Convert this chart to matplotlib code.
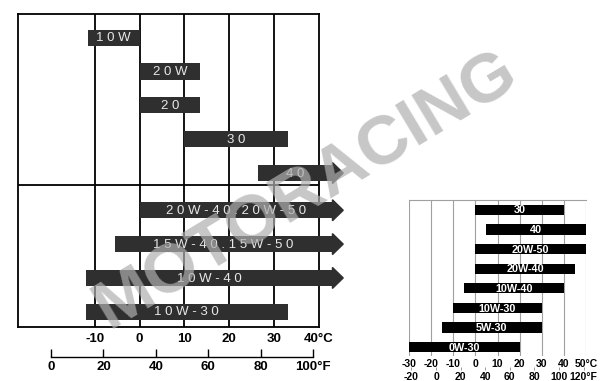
import matplotlib.pyplot as plt
from matplotlib.patches import Polygon

plt.rcParams['font.family'] = ['Liberation Sans', 'DejaVu Sans']

# left chart: recommended viscosity by ambient temperature (deg C)
grades = ['10W', '20W', '20', '30', '40',
          '20W-40.20W-50', '15W-40.15W-50', '10W-40', '10W-30']
lo = [-11.5, 0, 0, 10, 26.5, 0, -5.5, -12, -12]
hi = [0, 13.5, 13.5, 33, 43, 43, 43, 43, 33]
open_end = [False, False, False, False, True, True, True, True, False]
c_ticks = [-10, 0, 10, 20, 30, 40]
c_labels = ['-10', '0', '10', '20', '30', '40°C']
f_ticks = [0, 20, 40, 60, 80, 100]
f_labels = ['0', '20', '40', '60', '80', '100°F']

# right chart
grades2 = ['30', '40', '20W-50', '20W-40', '10W-40', '10W-30', '5W-30', '0W-30']
lo2 = [0, 5, 0, 0, -5, -10, -15, -30]
hi2 = [40, 50, 50, 45, 40, 30, 30, 20]
c_ticks2 = [-30, -20, -10, 0, 10, 20, 30, 40, 50]
c_labels2 = ['-30', '-20', '-10', '0', '10', '20', '30', '40', '50°C']
f_ticks2 = [-20, 0, 20, 40, 60, 80, 100, 120]
f_labels2 = ['-20', '0', '20', '40', '60', '80', '100', '120°F']

W, H = 600, 381
fig = plt.figure(figsize=(6, 3.81), dpi=100)


def px_axes(x0, y0, x1, y1):
    # axes from pixel box (top-left origin)
    return fig.add_axes([x0 / W, 1 - y1 / H, (x1 - x0) / W, (y1 - y0) / H])


# ---------- left chart ----------
ax = px_axes(18, 14, 319, 327)
ax.set_xlim(-27.1, 40)
ax.set_ylim(8.55, -0.7)
bar_col = '#2f2f2f'
ypos = [i + (0.1 if i >= 5 else 0) for i in range(len(grades))]
bh = 0.48
ax.barh(ypos, [h - l for l, h in zip(lo, hi)], left=lo, height=bh,
        color=bar_col, zorder=3, clip_on=False)
for y, l, h, g, arr in zip(ypos, lo, hi, grades, open_end):
    if arr:
        head = Polygon([(h, y - 0.31), (h + 2.4, y), (h, y + 0.31)],
                       closed=True, color=bar_col, zorder=3, clip_on=False)
        ax.add_patch(head)
    ax.text((l + h) / 2, y + 0.02, ' '.join(g), color='#e8e8e8',
            fontsize=9.5, ha='center', va='center', zorder=4)

for x in c_ticks[:-1]:
    ax.axvline(x, color='black', lw=1.3, zorder=1)
ax.axhline(4.35, color='black', lw=1.3, zorder=1)
for s in ax.spines.values():
    s.set_linewidth(1.3)
ax.set_yticks([])
ax.set_xticks(c_ticks, c_labels, fontweight='bold', fontsize=9.5)
ax.tick_params(axis='x', length=0, pad=4)

# fahrenheit scale under left chart
axf = px_axes(51, 340, 313, 357)
axf.set_xlim(0, 100)
axf.set_facecolor('none')
for k in ['top', 'left', 'right']:
    axf.spines[k].set_visible(False)
axf.spines['bottom'].set_linewidth(1.0)
axf.set_yticks([])
axf.set_xticks(f_ticks, f_labels, fontweight='bold', fontsize=9.5)
axf.tick_params(axis='x', direction='in', length=6, width=1.0, pad=3)

# ---------- right chart ----------
ax2 = px_axes(409, 200, 586, 356)
ax2.set_xlim(-30, 50)
ax2.set_ylim(7.45, -0.5)
ax2.barh(range(len(grades2)), [h - l for l, h in zip(lo2, hi2)], left=lo2,
         height=0.52, color='black', zorder=3)
for i, (l, h, g) in enumerate(zip(lo2, hi2, grades2)):
    ax2.text((l + h) / 2, i + 0.03, g, color='white', fontsize=7.8,
             fontweight='bold', ha='center', va='center', zorder=4)
for x in c_ticks2:
    ax2.axvline(x, color='#a0a0a0', lw=0.8, zorder=1)
for k in ['bottom', 'left', 'right']:
    ax2.spines[k].set_visible(False)
ax2.spines['top'].set_color('#a0a0a0')
ax2.spines['top'].set_linewidth(0.8)
ax2.set_yticks([])
ax2.set_xticks(c_ticks2, c_labels2, fontweight='bold', fontsize=7.5)
ax2.tick_params(axis='x', length=0, pad=2)

sec = ax2.secondary_xaxis(-0.07, functions=(lambda c: c * 9 / 5 + 32,
                                             lambda f: (f - 32) * 5 / 9))
sec.spines['bottom'].set_visible(False)
sec.set_xticks(f_ticks2, f_labels2, fontweight='bold', fontsize=7.5)
sec.tick_params(axis='x', length=2.5, width=0.6, color='#888888', pad=1)

# watermark
fig.text(0.51, 0.5, 'MOTORACING', fontsize=50, fontweight='bold',
         color='#afafaf', alpha=0.7, rotation=31, ha='center', va='center',
         zorder=10)

fig.savefig('out.png', dpi=100)
